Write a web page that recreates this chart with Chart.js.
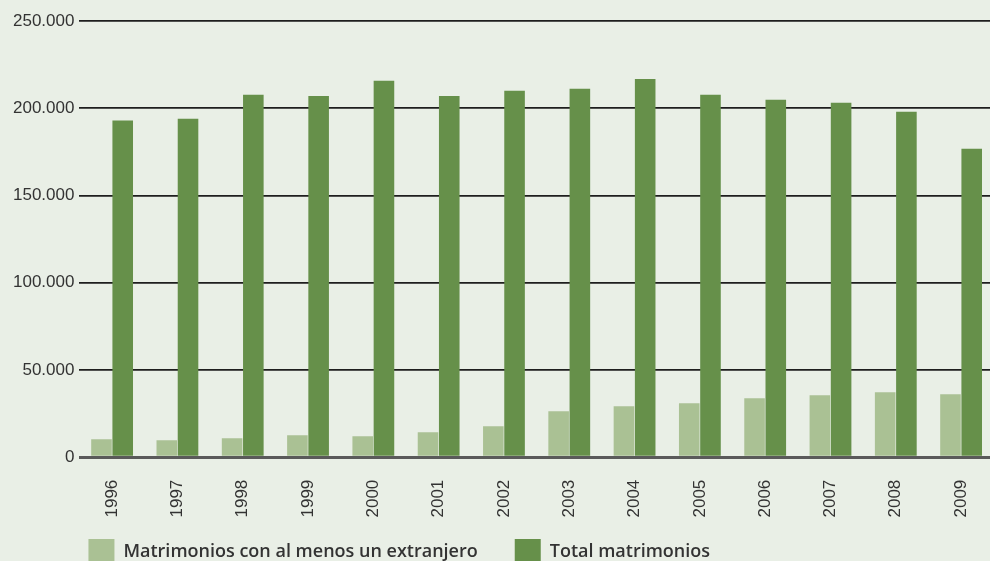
<!DOCTYPE html>
<html>
<head>
<meta charset="utf-8">
<script src="https://cdn.jsdelivr.net/npm/chart.js@4.4.0/dist/chart.umd.min.js"></script>
<style>
  html, body { margin: 0; padding: 0; overflow: hidden; background: #e9efe6; }
  #wrap { width: 996px; height: 561px; position: relative; }
</style>
</head>
<body>
<div id="wrap"><canvas id="myChart"></canvas></div>
<script>
  const years = ['1996','1997','1998','1999','2000','2001','2002','2003','2004','2005','2006','2007','2008','2009'];
  const conExtranjero = [10300, 9700, 10900, 12600, 12000, 14300, 17700, 26300, 29200, 30900, 33800, 35500, 37200, 36000];
  const totalMatrimonios = [193000, 194000, 207700, 207000, 215800, 207000, 210000, 211200, 216800, 207700, 204800, 203100, 198000, 176800];
  const yTicks = [0, 50000, 100000, 150000, 200000, 250000];

  const ctx = document.getElementById('myChart');

  const fmt = v => String(v).replace(/\B(?=(\d{3})+(?!\d))/g, '.');

  // legend drawn by hand, the built-in one can't space the items like the original
  const bottomLegend = {
    id: 'bottomLegend',
    afterDraw(chart) {
      const c = chart.ctx;
      const area = chart.chartArea;
      let x = area.left + 9;
      const top = 539;
      c.save();
      c.font = '600 18px "Open Sans"';
      c.textBaseline = 'alphabetic';
      chart.data.datasets.forEach(ds => {
        c.fillStyle = ds.backgroundColor;
        c.fillRect(x, top, 26, 26);
        c.fillStyle = '#333';
        c.fillText(ds.label, x + 35, top + 18);
        x += 35 + c.measureText(ds.label).width + 37;
      });
      c.restore();
    }
  };

  new Chart(ctx, {
    type: 'bar',
    data: {
      labels: years,
      datasets: [{
        label: 'Matrimonios con al menos un extranjero',
        data: conExtranjero,
        backgroundColor: '#aac194',
        categoryPercentage: 0.65,
        barPercentage: 0.97
      }, {
        label: 'Total matrimonios',
        data: totalMatrimonios,
        backgroundColor: '#66904a',
        categoryPercentage: 0.65,
        barPercentage: 0.97
      }]
    },
    plugins: [bottomLegend],
    options: {
      responsive: true,
      maintainAspectRatio: false,
      animation: false,
      layout: { padding: { top: 21, left: 8, right: 0, bottom: 29 } },
      plugins: {
        tooltip: { enabled: false },
        legend: { display: false }
      },
      scales: {
        x: {
          grid: { display: false },
          border: { display: false },
          ticks: {
            minRotation: 90,
            maxRotation: 90,
            padding: 14.5,
            color: '#333',
            font: { family: 'Liberation Sans', size: 17 }
          }
        },
        y: {
          min: 0,
          max: 250000,
          afterBuildTicks: axis => { axis.ticks = yTicks.map(v => ({ value: v })); },
          border: { display: false },
          grid: {
            drawTicks: false,
            color: c => c.tick.value === 0 ? '#5a5a5a' : '#1e1e1e',
            lineWidth: c => c.tick.value === 0 ? 3 : 1.8
          },
          ticks: {
            padding: 5,
            color: '#333',
            font: { family: 'Liberation Sans', size: 17 },
            callback: v => fmt(v)
          }
        }
      }
    }
  });
</script>
</body>
</html>
